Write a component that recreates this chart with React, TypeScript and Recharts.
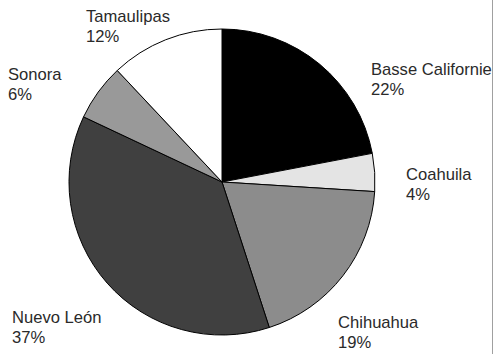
import { Cell, Pie, PieChart } from "recharts";

const states = ["Basse Californie", "Coahuila", "Chihuahua", "Nuevo León", "Sonora", "Tamaulipas"];
const shares = [22, 4, 19, 37, 6, 12];
const fills = ["#000000", "#e4e4e4", "#8c8c8c", "#404040", "#999999", "#ffffff"];

// label top-left baseline offset from the pie centre, per slice
const labelOffsets: Array<[number, number]> = [
  [149, -107],
  [184, -2],
  [116, 146],
  [-210, 141],
  [-214, -102],
  [-136, -160],
];

const data = states.map((name, i) => ({ name, value: shares[i] }));

function renderLabel(props: any) {
  const { cx, cy, index, name, value } = props;
  const [dx, dy] = labelOffsets[index];
  return (
    <text
      x={cx + dx}
      y={cy + dy}
      fill="#2a2a2a"
      fontSize={16.6}
      fontFamily="'Liberation Sans', Arial, sans-serif"
      textAnchor="start"
    >
      <tspan x={cx + dx} dy={0}>{name}</tspan>
      <tspan x={cx + dx} dy={20}>{`${value}%`}</tspan>
    </text>
  );
}

export default function App() {
  return (
    <div
      style={{
        position: "absolute",
        left: 0,
        top: 0,
        width: 492,
        height: 354,
        borderRight: "1px solid #a0a0a0",
        background: "#fff",
      }}
    >
      <PieChart width={492} height={354} margin={{ top: 0, right: 0, bottom: 0, left: 0 }}>
        <Pie
          data={data}
          dataKey="value"
          nameKey="name"
          cx={222}
          cy={182}
          outerRadius={153}
          startAngle={90}
          endAngle={-270}
          stroke="#000"
          strokeWidth={1}
          label={renderLabel}
          labelLine={false}
          isAnimationActive={false}
        >
          {data.map((d, i) => (
            <Cell key={d.name} fill={fills[i]} />
          ))}
        </Pie>
      </PieChart>
    </div>
  );
}
